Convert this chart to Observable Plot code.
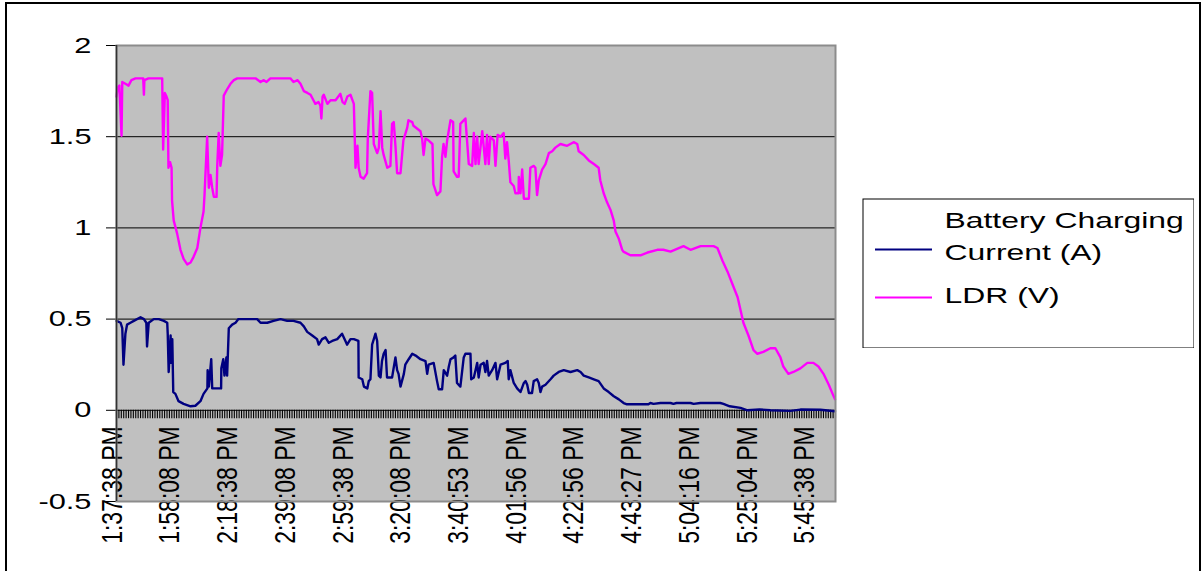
<!DOCTYPE html>
<html><head><meta charset="utf-8">
<script src="https://cdn.jsdelivr.net/npm/d3@7"></script>
<script src="https://cdn.jsdelivr.net/npm/@observablehq/plot@0.6"></script>
<style>
body{margin:0;background:#fff;overflow:hidden;font-family:"Liberation Sans",Arial,sans-serif;}
#wrap{position:relative;width:1202px;height:571px;overflow:hidden;}
#border{position:absolute;left:5px;top:2px;width:1196px;height:700px;border:2px solid #000;box-sizing:border-box;}
#chart{position:absolute;left:0;top:0;}
#legend{position:absolute;left:862px;top:198px;z-index:2;background:#fff;}
</style></head>
<body>
<div id="wrap">
  <div id="border"></div>
  <div id="chart"></div>
  <div id="legend"></div>
</div>
<script>
const tickLabels = ["1:37:38 PM","1:58:08 PM","2:18:38 PM","2:39:08 PM","2:59:38 PM","3:20:08 PM","3:40:53 PM","4:01:56 PM","4:22:56 PM","4:43:27 PM","5:04:16 PM","5:25:04 PM","5:45:38 PM"];
const labelIndex = [0,24,48,72,96,120,144,168,192,216,240,264,288];
const categoryCount = 300;
const yTicks = [-0.5,0,0.5,1,1.5,2];
const gridValues = [0,0.5,1,1.5];
const seriesNames = ["Battery Charging Current (A)", "LDR (V)"];
const seriesLegendText = ["Battery Charging\nCurrent (A)", "LDR (V)"];
const seriesColors = ["#000080", "#ff00ff"];

const currentPos = [0.0,1.7,2.4,2.9,3.7,4.4,5.8,7.2,10.0,11.4,12.4,12.7,13.4,15.5,17.6,19.7,21.1,21.3,21.7,22.5,22.8,23.2,23.6,24.5,25.8,27.9,30.8,32.8,34.9,36.2,37.8,37.9,38.4,39.4,39.8,41.9,43.5,43.6,44.4,44.9,45.7,46.0,46.7,48.1,49.5,50.7,52.8,55.7,58.5,59.9,62.7,65.3,68.2,71.0,73.6,76.5,77.9,79.3,81.4,83.4,84.1,85.5,86.9,88.3,89.7,91.8,93.8,95.2,95.9,97.3,98.7,100.6,100.7,102.2,102.9,104.3,104.9,105.6,106.3,107.7,108.4,109.1,109.8,110.4,111.1,111.9,112.5,114.6,116.0,116.7,117.3,118.1,119.5,120.1,121.5,123.0,124.4,126.4,128.5,129.2,129.8,131.9,133.3,134.0,135.4,136.1,137.5,138.2,138.9,140.2,140.9,141.6,143.0,144.4,145.1,147.2,147.5,148.6,149.3,150.0,150.6,151.4,152.7,153.4,154.1,154.8,156.2,157.6,158.3,159.7,161.7,162.7,163.1,163.8,165.2,166.6,168.0,169.4,170.1,170.8,171.5,172.8,173.5,174.9,175.6,176.3,177.0,178.4,180.5,181.8,183.9,186.0,188.8,191.6,193.0,194.3,196.4,198.5,200.5,202.6,204.7,206.8,208.9,210.9,212.3,217.9,221.2,222.0,223.3,226.2,230.4,231.6,232.9,238.7,240.0,242.8,251.1,252.4,255.0,259.5,262.4,267.4,271.9,280.2,284.4,292.7,298.8];
const currentVal = [0.49,0.48,0.45,0.25,0.42,0.47,0.48,0.49,0.51,0.50,0.48,0.35,0.48,0.50,0.50,0.49,0.48,0.42,0.21,0.41,0.26,0.39,0.10,0.09,0.05,0.035,0.022,0.025,0.05,0.09,0.12,0.22,0.13,0.28,0.12,0.12,0.12,0.23,0.28,0.19,0.29,0.19,0.45,0.47,0.48,0.50,0.50,0.50,0.50,0.48,0.48,0.49,0.50,0.49,0.49,0.48,0.46,0.43,0.41,0.39,0.36,0.39,0.40,0.37,0.38,0.39,0.42,0.38,0.36,0.39,0.39,0.38,0.18,0.17,0.13,0.12,0.16,0.17,0.36,0.42,0.38,0.19,0.18,0.27,0.31,0.33,0.18,0.18,0.29,0.22,0.20,0.13,0.20,0.25,0.28,0.31,0.30,0.28,0.27,0.20,0.25,0.26,0.16,0.115,0.115,0.22,0.19,0.24,0.28,0.29,0.30,0.15,0.13,0.29,0.31,0.31,0.17,0.18,0.22,0.26,0.18,0.25,0.26,0.21,0.27,0.19,0.22,0.26,0.17,0.25,0.26,0.27,0.17,0.22,0.15,0.12,0.10,0.15,0.16,0.14,0.095,0.095,0.16,0.17,0.15,0.10,0.13,0.14,0.17,0.19,0.21,0.22,0.21,0.22,0.21,0.19,0.18,0.17,0.16,0.12,0.10,0.077,0.06,0.04,0.033,0.033,0.033,0.04,0.035,0.04,0.04,0.035,0.04,0.04,0.035,0.04,0.04,0.035,0.022,0.013,0.0,0.005,0.0,-0.003,0.004,0.003,-0.005];

const ldrPos = [0.0,0.5,1.2,2.1,2.4,3.7,5.0,6.2,7.9,10.0,11.1,11.4,11.6,13.3,16.2,19.0,19.4,20.1,20.8,21.3,21.6,22.3,22.9,23.1,23.8,25.2,26.6,27.9,29.4,30.8,32.0,33.6,34.9,36.2,36.6,37.7,38.4,39.1,39.8,40.5,41.6,41.9,42.5,43.2,43.9,44.6,46.0,47.4,48.8,50.2,53.6,57.8,59.9,61.1,62.4,64.0,68.2,72.3,73.6,75.3,76.5,77.9,79.4,80.7,81.9,82.7,84.0,84.8,85.2,85.7,86.2,87.7,89.0,91.1,93.1,94.0,94.9,96.0,97.3,98.7,99.4,100.2,100.7,101.5,102.8,104.2,104.5,105.6,106.3,107.0,108.4,109.1,109.8,110.5,111.1,112.6,113.9,114.6,115.3,116.0,116.7,118.1,119.3,120.9,121.4,123.0,123.5,126.4,127.1,127.7,128.5,129.7,131.4,131.8,133.3,134.7,135.4,136.0,136.8,137.5,138.9,140.0,140.2,141.6,142.3,143.0,145.1,146.5,147.9,148.6,149.3,150.0,150.6,152.1,153.4,154.1,154.8,155.5,156.9,157.6,158.5,159.7,161.0,161.7,162.4,163.1,163.8,165.2,165.9,167.2,167.3,168.0,168.7,169.4,171.5,172.1,173.5,174.2,174.9,175.6,177.0,178.4,179.8,181.2,182.5,184.6,187.4,190.1,191.6,192.2,194.3,196.4,198.5,200.5,201.2,202.6,204.0,205.4,206.8,207.5,208.9,210.3,210.8,213.7,217.9,220.8,224.9,227.4,230.4,235.8,238.7,242.9,248.3,249.9,252.0,254.1,256.2,258.3,259.5,260.7,262.8,264.9,266.5,269.0,271.9,274.0,276.1,277.3,279.4,281.5,284.4,287.3,289.8,291.9,294.0,296.2,297.8,298.8];
const ldrVal = [1.72,1.77,1.78,1.505,1.80,1.79,1.78,1.81,1.82,1.82,1.82,1.73,1.81,1.82,1.82,1.82,1.43,1.74,1.72,1.70,1.33,1.36,1.33,1.15,1.04,0.97,0.88,0.83,0.80,0.81,0.84,0.89,1.00,1.09,1.18,1.50,1.22,1.29,1.22,1.17,1.17,1.34,1.52,1.34,1.40,1.725,1.76,1.79,1.81,1.82,1.82,1.82,1.80,1.81,1.80,1.82,1.82,1.82,1.80,1.81,1.79,1.75,1.74,1.73,1.70,1.68,1.69,1.67,1.60,1.72,1.73,1.68,1.70,1.70,1.735,1.69,1.68,1.72,1.73,1.68,1.33,1.45,1.33,1.28,1.27,1.30,1.49,1.75,1.74,1.46,1.41,1.44,1.64,1.44,1.40,1.33,1.34,1.57,1.58,1.45,1.30,1.30,1.48,1.55,1.59,1.58,1.56,1.53,1.49,1.40,1.49,1.48,1.46,1.24,1.18,1.20,1.39,1.46,1.39,1.48,1.59,1.58,1.31,1.28,1.28,1.57,1.60,1.35,1.34,1.52,1.35,1.50,1.35,1.53,1.35,1.51,1.35,1.50,1.48,1.34,1.51,1.50,1.52,1.38,1.47,1.37,1.25,1.23,1.19,1.19,1.28,1.19,1.32,1.16,1.16,1.33,1.34,1.33,1.18,1.26,1.32,1.35,1.41,1.42,1.44,1.46,1.45,1.47,1.46,1.42,1.40,1.37,1.35,1.33,1.26,1.19,1.14,1.10,1.04,0.98,0.94,0.88,0.87,0.85,0.85,0.865,0.88,0.88,0.87,0.90,0.88,0.90,0.90,0.89,0.82,0.76,0.69,0.62,0.55,0.48,0.41,0.33,0.31,0.32,0.34,0.34,0.29,0.24,0.20,0.21,0.23,0.26,0.26,0.24,0.20,0.14,0.09,0.06];

const current = currentPos.map((x, i) => ({x, y: currentVal[i]}));
const ldr = ldrPos.map((x, i) => ({x, y: ldrVal[i]}));

const font = '"Liberation Sans", Arial, sans-serif';

const chart = Plot.plot({
  width: 1202, height: 571,
  marginLeft: 116, marginRight: 367, marginTop: 45, marginBottom: 70,
  x: {domain: [0, categoryCount - 1], axis: null},
  y: {domain: [-0.5, 2], axis: null},
  style: {fontFamily: font, background: "transparent", color: "#000"},
  marks: [
    Plot.frame({fill: "#c0c0c0"}),
    Plot.ruleY(gridValues, {stroke: "#000", strokeWidth: 1}),
    Plot.axisY({ticks: yTicks, tickSize: 10, tickPadding: 15, fontSize: 22, label: null, tickFormat: d => String(d)}),
    Plot.ruleX(d3.range(categoryCount), {x: d => d, y1: 0, y2: -0.046, stroke: "#000", strokeWidth: 1.1}),
    Plot.line(current, {x: "x", y: "y", stroke: seriesColors[0], strokeWidth: 2.4}),
    Plot.line(ldr, {x: "x", y: "y", stroke: seriesColors[1], strokeWidth: 2.4}),
    Plot.text(labelIndex, {x: d => d, y: 0, text: (d, i) => tickLabels[i], rotate: -90, textAnchor: "end", lineAnchor: "middle", dy: 16, dx: -4, fontSize: 23, fill: "#000", ariaDescription: "x-labels"}),
    Plot.frame({stroke: "#8c8c8c", strokeWidth: 2}),
    Plot.ruleX([0], {stroke: "#333", strokeWidth: 1.5})
  ]
});

const legend = Plot.plot({
  width: 332, height: 150, margin: 0,
  x: {domain: [0, 1], range: [13, 70], axis: null},
  y: {type: "point", domain: seriesNames, range: [51, 99], padding: 0, axis: null},
  style: {fontFamily: font, background: "#fff", color: "#000"},
  marks: [
    Plot.frame({stroke: "#000", strokeWidth: 1, inset: 0.5, fill: "#fff"}),
    Plot.ruleY(seriesNames, {y: d => d, x1: 0, x2: 1, stroke: (d, i) => seriesColors[i], strokeWidth: 2}),
    Plot.text([seriesNames[0]], {x: 1, y: d => d, text: () => seriesLegendText[0], textAnchor: "start", lineAnchor: "top", lineHeight: 32 / 22, dx: 12, dy: -44, fontSize: 22, fill: "#000", ariaDescription: "legend-text"}),
    Plot.text([seriesNames[1]], {x: 1, y: d => d, text: () => seriesLegendText[1], textAnchor: "start", lineAnchor: "top", dx: 12, dy: -10, fontSize: 22, fill: "#000", ariaDescription: "legend-text"})
  ]
});

function stretch(root, selector, sx, sy) {
  root.querySelectorAll(selector).forEach(t => {
    const tr = t.getAttribute("transform") || "";
    const xa = t.getAttribute("x"), ya = t.getAttribute("y");
    let px = 0, py = 0;
    if (xa && !/em$/.test(xa)) { px = +xa || 0; t.removeAttribute("x"); }
    if (ya && !/em$/.test(ya)) { py = +ya || 0; t.removeAttribute("y"); }
    t.setAttribute("transform", `${tr} translate(${px},${py}) scale(${sx},${sy})`);
  });
}
stretch(chart, 'g[aria-label="y-axis tick label"] > text', 1.4, 1);
stretch(chart, 'g[aria-description="x-labels"] > text', 1, 1.25);
stretch(legend, 'g[aria-description="legend-text"] > text', 1.45, 1);

document.getElementById("chart").appendChild(chart);
document.getElementById("legend").appendChild(legend);
</script>
</body></html>
